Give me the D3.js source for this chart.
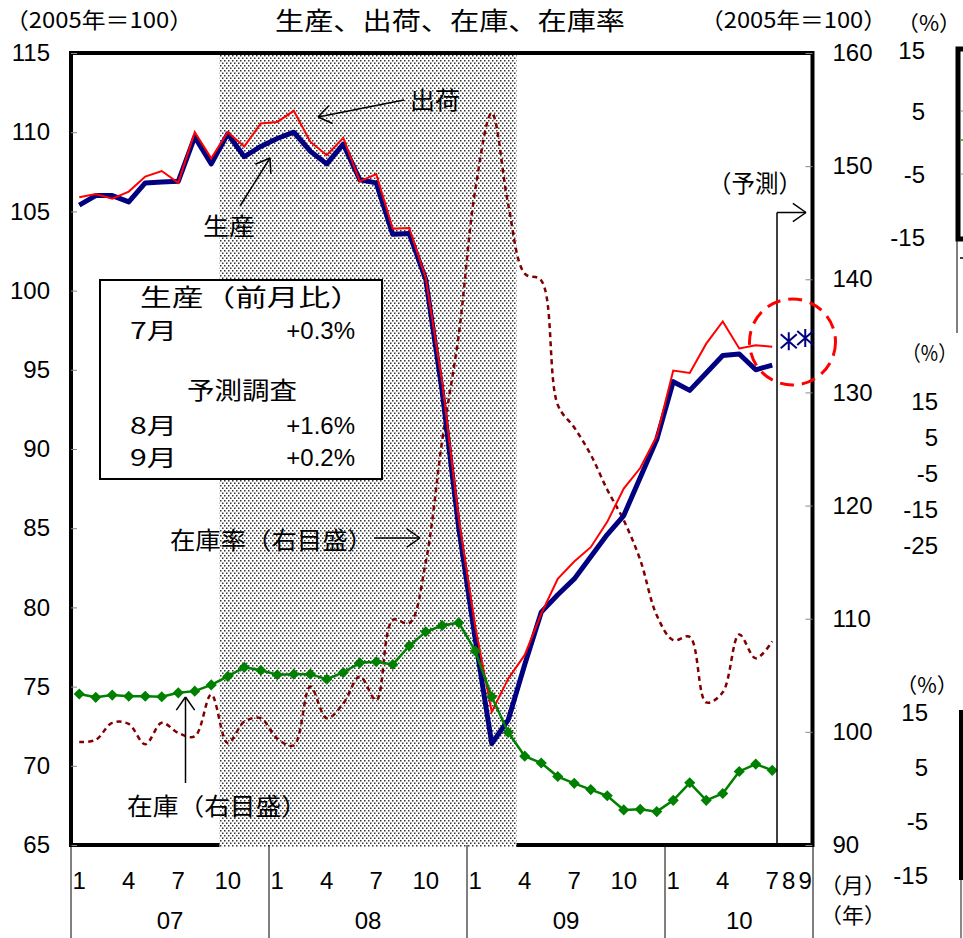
<!DOCTYPE html>
<html>
<head>
<meta charset="utf-8">
<script src="https://cdn.jsdelivr.net/npm/d3@7"></script>
<style>
  body { margin: 0; background: #fff; }
</style>
</head>
<body>
<div id="chart"></div>
<script>
// month categories, 2007-01 .. 2010-09
var years = ["07", "08", "09", "10"];
var monthsInYear = [12, 12, 12, 9];
var months = [];
years.forEach(function(y, k) {
    for (var m = 1; m <= monthsInYear[k]; m++) months.push(y + "-" + m);
});

// 生産 (2005=100, left scale), 07-1 .. 10-7
var production = [105.4, 106.0, 106.0, 105.6, 106.8, 106.85, 106.9, 109.7, 108.0, 109.9, 108.45, 109.1,
    109.6, 110.0, 108.8, 108.0, 109.25, 107.0, 106.8, 103.55, 103.6, 100.7, 93.6, 85.0,
    78.0, 71.4, 72.9, 76.4, 79.7, 80.8, 81.8, 83.2, 84.6, 85.8, 88.2, 90.6,
    94.25, 93.7, 94.8, 95.9, 96.0, 95.0, 95.3];

// 出荷 (left scale)
var shipments = [105.9, 106.1, 105.8, 106.25, 107.2, 107.55, 106.8, 110.0, 108.35, 110.0, 109.1, 110.55,
    110.65, 111.35, 109.4, 108.55, 109.65, 106.9, 107.35, 103.9, 103.95, 100.8, 94.2, 85.6,
    78.8, 73.4, 75.5, 77.0, 79.6, 81.8, 82.9, 83.8, 85.4, 87.5, 88.8, 90.8,
    94.95, 94.8, 96.65, 98.05, 96.35, 96.55, 96.45];

// 在庫 (right scale)
var inventory = [103.35, 103.05, 103.25, 103.15, 103.15, 103.1, 103.45, 103.6, 104.15, 104.9, 105.7, 105.45,
    105.05, 105.1, 105.1, 104.65, 105.25, 106.1, 106.2, 105.95, 107.6, 108.85, 109.4, 109.65,
    107.15, 103.1, 99.95, 97.85, 97.25, 96.05, 95.45, 94.9, 94.35, 93.1, 93.15, 92.95,
    93.95, 95.5, 93.95, 94.55, 96.5, 97.15, 96.6];

// 在庫率 (right scale)
var inventoryRatio = [99.1, 99.3, 100.8, 100.7, 98.9, 100.8, 99.9, 99.6, 103.3, 99.0, 100.9, 101.2,
    99.4, 98.8, 104.0, 101.2, 102.5, 104.9, 102.8, 109.9, 109.6, 115.0, 125.8, 135.1,
    147.9, 154.7, 146.6, 140.5, 139.9, 128.9, 126.9, 124.5, 121.4, 118.7, 115.2, 110.3,
    108.1, 108.4, 102.6, 103.5, 108.6, 106.5, 108.0];

// 予測調査
var forecastMonths = ["10-8", "10-9"];
var forecastValues = [96.8, 97.0];

var recessionFrom = "07-10", recessionTo = "09-3";

var leftTicks = [65, 70, 75, 80, 85, 90, 95, 100, 105, 110, 115];
var rightTicks = [90, 100, 110, 120, 130, 140, 150, 160];
var monthTicks = ["07-1", "07-4", "07-7", "07-10", "08-1", "08-4", "08-7", "08-10",
    "09-1", "09-4", "09-7", "09-10", "10-1", "10-4", "10-7", "10-8", "10-9"];

var jp = "'Noto Sans CJK JP', 'Noto Sans', sans-serif";
var num = "'Liberation Sans', Arial, sans-serif";

var svg = d3.select("#chart").append("svg")
    .attr("width", 963)
    .attr("height", 938)
    .style("background", "#fff");

var x = d3.scaleBand().domain(months).range([71, 813.5]);
var bw = x.bandwidth();
var cx = function(m) { return x(m) + bw / 2; };
var yL = d3.scaleLinear().domain([65, 115]).range([845, 53]);
var yR = d3.scaleLinear().domain([90, 160]).range([845, 53]);

// dotted pattern for the shaded period
var pat = svg.append("defs").append("pattern")
    .attr("id", "dots")
    .attr("patternUnits", "userSpaceOnUse")
    .attr("width", 4)
    .attr("height", 5);
pat.append("rect").attr("width", 4).attr("height", 5).attr("fill", "#fff");
pat.append("rect").attr("x", 0).attr("y", 0).attr("width", 1.5).attr("height", 1.5).attr("fill", "#333");
pat.append("rect").attr("x", 2).attr("y", 2.5).attr("width", 1.5).attr("height", 1.5).attr("fill", "#333");

function text(t, xx, yy, opts) {
    opts = opts || {};
    var el = svg.append("text")
        .attr("x", xx)
        .attr("y", yy)
        .attr("font-family", opts.family || jp)
        .attr("font-size", opts.size || 24)
        .attr("text-anchor", opts.anchor || "start")
        .attr("fill", "#000")
        .text(t);
    if (opts.len) el.attr("textLength", opts.len).attr("lengthAdjust", "spacingAndGlyphs");
    return el;
}

function line(x1, y1, x2, y2, w, c) {
    return svg.append("line")
        .attr("x1", x1).attr("y1", y1).attr("x2", x2).attr("y2", y2)
        .attr("stroke", c || "#000")
        .attr("stroke-width", w || 1.5);
}

function arrow(x1, y1, x2, y2) {
    line(x1, y1, x2, y2, 1.5);
    var a = Math.atan2(y1 - y2, x1 - x2), len = 16, spread = 35 * Math.PI / 180;
    [a - spread, a + spread].forEach(function(b) {
        line(x2, y2, x2 + len * Math.cos(b), y2 + len * Math.sin(b), 1.5);
    });
}

// frame
svg.append("rect")
    .attr("x", 71).attr("y", 53)
    .attr("width", 741.5).attr("height", 792)
    .attr("fill", "#fff")
    .attr("stroke", "#000")
    .attr("stroke-width", 4);

// shaded period
svg.append("rect")
    .attr("x", x(recessionFrom))
    .attr("y", 55)
    .attr("width", x(recessionTo) + bw - x(recessionFrom))
    .attr("height", 792)
    .attr("fill", "url(#dots)");

// axes
var gl = svg.append("g")
    .attr("transform", "translate(71,0)")
    .call(d3.axisLeft(yL).tickValues(leftTicks).tickSizeInner(-6).tickSizeOuter(0).tickPadding(21));
var gr = svg.append("g")
    .attr("transform", "translate(812.5,0)")
    .call(d3.axisRight(yR).tickValues(rightTicks).tickSizeInner(-7).tickSizeOuter(0).tickPadding(20));
[gl, gr].forEach(function(g) {
    g.select(".domain").remove();
    g.selectAll(".tick line").attr("stroke", "#888");
    g.selectAll(".tick text").attr("font-family", num).attr("font-size", 24).attr("fill", "#000");
});

var gx = svg.append("g")
    .attr("transform", "translate(0,845)")
    .call(d3.axisBottom(x).tickValues(monthTicks).tickSize(0).tickPadding(27)
        .tickFormat(function(d) { return d.split("-")[1]; }));
gx.select(".domain").remove();
gx.selectAll(".tick text").attr("font-family", num).attr("font-size", 24).attr("fill", "#000");

// year separators and labels
years.forEach(function(y, k) {
    var first = x(y + "-1"), last = x(y + "-" + monthsInYear[k]) + bw;
    line(first, 845, first, 938, 1);
    text(y, (first + last) / 2, 929, { family: num, anchor: "middle" });
});
line(813, 845, 813, 938, 1);

// 在庫率 (dotted, smoothed)
svg.append("path")
    .datum(inventoryRatio)
    .attr("fill", "none")
    .attr("stroke", "#800000")
    .attr("stroke-width", 2.5)
    .attr("stroke-dasharray", "5,4")
    .attr("d", d3.line()
        .x(function(d, i) { return cx(months[i]); })
        .y(function(d) { return yR(d); })
        .curve(d3.curveCatmullRom.alpha(0.5)));

// 生産
svg.append("path")
    .datum(production)
    .attr("fill", "none")
    .attr("stroke", "#000080")
    .attr("stroke-width", 5)
    .attr("stroke-linejoin", "round")
    .attr("d", d3.line()
        .x(function(d, i) { return cx(months[i]); })
        .y(function(d) { return yL(d); }));

// 出荷
svg.append("path")
    .datum(shipments)
    .attr("fill", "none")
    .attr("stroke", "#ff0000")
    .attr("stroke-width", 2)
    .attr("d", d3.line()
        .x(function(d, i) { return cx(months[i]); })
        .y(function(d) { return yL(d); }));

// 在庫
svg.append("path")
    .datum(inventory)
    .attr("fill", "none")
    .attr("stroke", "#008000")
    .attr("stroke-width", 2.5)
    .attr("d", d3.line()
        .x(function(d, i) { return cx(months[i]); })
        .y(function(d) { return yR(d); }));
svg.selectAll(".inv")
    .data(inventory)
    .enter()
    .append("path")
    .attr("class", "inv")
    .attr("d", d3.symbol(d3.symbolSquare, 62))
    .attr("fill", "#008000")
    .attr("transform", function(d, i) {
        return "translate(" + cx(months[i]) + "," + yR(d) + ") rotate(45)";
    });

// 予測 bracket
line(777, 843, 777, 212.5, 1.5);
arrow(777, 212.5, 806, 212.5);

// forecast markers
svg.selectAll(".fc")
    .data(forecastValues)
    .enter()
    .append("path")
    .attr("class", "fc")
    .attr("fill", "none")
    .attr("stroke", "#000080")
    .attr("stroke-width", 2)
    .attr("d", "M0,-9V9M-8,-7L8,7M-8,7L8,-7")
    .attr("transform", function(d, i) {
        return "translate(" + cx(forecastMonths[i]) + "," + yL(d) + ")";
    });

svg.append("circle")
    .attr("cx", 792.5).attr("cy", 342).attr("r", 43)
    .attr("fill", "none")
    .attr("stroke", "#ff0000")
    .attr("stroke-width", 3)
    .attr("stroke-dasharray", "14,8");

// legend box
svg.append("rect")
    .attr("x", 100).attr("y", 280)
    .attr("width", 282).attr("height", 199)
    .attr("fill", "#fff")
    .attr("stroke", "#000")
    .attr("stroke-width", 2);
text("生産（前月比）", 140, 306, { len: 222 });
text("7月", 130, 339, { size: 23, len: 47 });
text("+0.3%", 355, 339, { family: num, anchor: "end" });
text("予測調査", 187, 399, { len: 110 });
text("8月", 130, 434, { size: 23, len: 47 });
text("+1.6%", 355, 434, { family: num, anchor: "end" });
text("9月", 130, 466, { size: 23, len: 47 });
text("+0.2%", 355, 466, { family: num, anchor: "end" });

// annotations
text("出荷", 410, 109, { len: 50 });
arrow(404, 100, 318, 117);
text("生産", 203, 235, { len: 52 });
arrow(240, 206, 270, 158);
text("在庫率（右目盛）", 170, 549, { len: 203 });
arrow(374, 538, 420, 538);
text("在庫（右目盛）", 127, 815, { len: 180 });
arrow(185.5, 783, 185.5, 697);
text("（予測）", 708, 192, { len: 94 });

// headers
text("（2005年＝100）", 5, 28, { size: 22, len: 188 });
text("生産、出荷、在庫、在庫率", 275, 30, { size: 25, len: 350 });
text("（2005年＝100）", 700, 28, { size: 22, len: 187 });
text("（%）", 897, 31, { size: 21, len: 64 });
text("（月）", 820, 893, { size: 21, len: 66 });
text("（年）", 820, 923, { size: 21, len: 66 });

// neighbouring panels (cut off at the right edge)
[["15", 51], ["5", 112], ["-5", 175], ["-15", 238]].forEach(function(d) {
    text(d[0], 925, d[1] + 8, { family: num, anchor: "end" });
});
text("（%）", 902, 361, { size: 21, len: 55 });
[["15", 402], ["5", 438], ["-5", 474], ["-15", 510], ["-25", 546]].forEach(function(d) {
    text(d[0], 938, d[1] + 8, { family: num, anchor: "end" });
});
text("（%）", 896, 693, { size: 21, len: 62 });
[["15", 713], ["5", 768], ["-5", 822], ["-15", 876]].forEach(function(d) {
    text(d[0], 928, d[1] + 8, { family: num, anchor: "end" });
});

svg.append("path")
    .attr("d", "M965,49H958V239H965")
    .attr("fill", "none")
    .attr("stroke", "#000")
    .attr("stroke-width", 5);
line(961, 111, 963, 111, 1, "#888");
line(961, 174, 963, 174, 1, "#888");
line(961, 140, 963, 140, 2, "#33cc33");
line(957, 241, 957, 333, 1);
line(960, 258, 963, 258, 1.5);
line(961, 710, 961, 880, 4);
line(961, 880, 961, 938, 2, "#888");
</script>
</body>
</html>
